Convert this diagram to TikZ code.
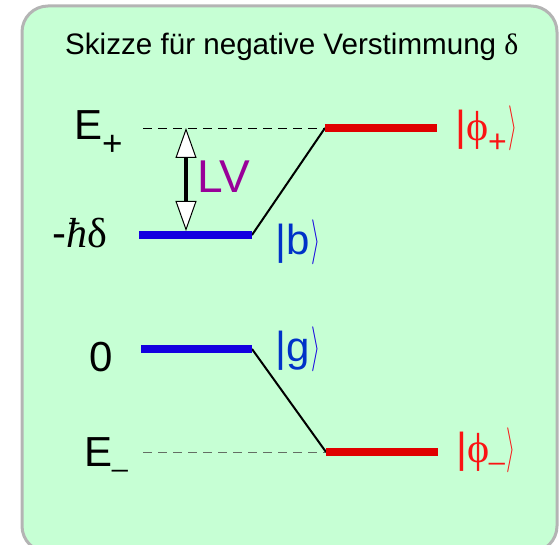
\documentclass[tikz,border=0pt]{standalone}
\usepackage{fontspec}
\usepackage{graphicx}
\setmainfont{Liberation Sans}
\newfontfamily\grk{Liberation Serif}
\usetikzlibrary{arrows.meta}
\definecolor{bgfill}{RGB}{198,255,212}
\definecolor{boxline}{RGB}{180,180,180}
\definecolor{lvred}{RGB}{224,0,0}
\definecolor{ketred}{RGB}{250,20,20}
\definecolor{lvblue}{RGB}{20,0,224}
\definecolor{ketblue}{RGB}{0,50,200}
\definecolor{lvpurple}{RGB}{153,0,153}
\definecolor{dashgray}{RGB}{100,110,100}
\newcommand{\fs}[1]{\fontsize{#1}{#1}\selectfont}
\newcommand{\rket}{\hspace{2pt}\raisebox{-10pt}{\resizebox*{9pt}{45pt}{\raisebox{\depth}{$\rangle$}}}}
\begin{document}
\begin{tikzpicture}[x=1pt,y=-1pt,
  level/.style={line width=8pt},
  conn/.style={line width=2pt,black},
  guide/.style={line width=0.9pt,dash pattern=on 9pt off 6pt},
  lbl/.style={inner sep=0pt,anchor=base west},
]
\useasboundingbox (0,0) rectangle (560,545);
\begin{scope}
\clip (0,0) rectangle (560,545);
\draw[boxline,fill=bgfill,line width=3pt,rounded corners=26pt] (22,6) rectangle (557,552);
\end{scope}

\node[lbl] (title) at (65,55) {\fs{29.6}Skizze für negative Verstimmung {\grk δ}};

% level coordinates
\coordinate (bL) at (139,235); \coordinate (bR) at (252,235);
\coordinate (gL) at (141,349); \coordinate (gR) at (252,349);
\coordinate (pL) at (325,128); \coordinate (pR) at (437,128);
\coordinate (mL) at (326,452); \coordinate (mR) at (438,452);
\coordinate (dT) at (143,128); \coordinate (dB) at (143,452);

\draw[guide,black] (dT) -- (pL);
\draw[guide,dashgray] (dB) -- (mL);

\draw[conn] (bR) -- (pL);
\draw[conn] (gR) -- (mL);

\draw[level,lvblue] (bL) -- (bR);
\draw[level,lvblue] (gL) -- (gR);
\draw[level,lvred] (pL) -- (pR);
\draw[level,lvred] (mL) -- (mR);

% LV arrow
\coordinate (aT) at (186,128); \coordinate (aB) at (186,231);
\draw[line width=3.5pt,
  {Triangle[width=21pt,length=30pt,fill=white,line width=1pt]}-{Triangle[width=21pt,length=30pt,fill=white,line width=1pt]}]
  (aT) -- (aB);
\node[lbl,lvpurple] (LV) at (197,193) {\fs{46}LV};

% left labels
\node[lbl] (Ep) at (74,140) {\fs{42}E\raisebox{-16pt}{\fs{35}+}};
\node[lbl] (hd) at (52,248) {\fs{42}-{\grk\itshape ħ}{\grk δ}};
\node[lbl] (zero) at (89,372) {\fs{42}0};
\node[lbl] (Em) at (84,467) {\fs{42}E{\fs{28}\_}};

% kets
\node[lbl,ketblue] (kb) at (275,255) {\fs{42}|b\textcolor{lvblue}{\rket}};
\node[lbl,ketblue] (kg) at (275,362) {\fs{42}|g\textcolor{lvblue}{\rket}};
\node[lbl,ketred] (kp) at (455,141) {\fs{42}|{\grk ϕ}\raisebox{-12pt}{\fs{32}+}\rket};
\node[lbl,ketred] (km) at (456,463) {\fs{42}|{\grk ϕ}\raisebox{4pt}{\fs{28}\_}\rket};
\end{tikzpicture}
\end{document}
